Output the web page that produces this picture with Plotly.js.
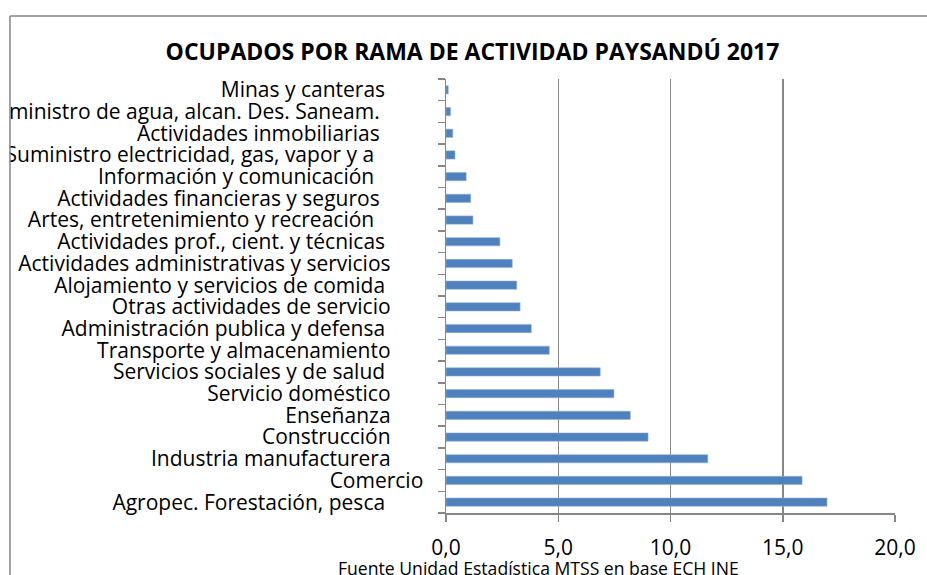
<!DOCTYPE html>
<html>
<head>
<meta charset="utf-8">
<script src="https://cdn.plot.ly/plotly-3.0.1.min.js"></script>
<style>html,body{margin:0;padding:0;background:#fff;}#chart{width:927px;height:575px;}</style>
</head>
<body>
<div id="chart"></div>
<script>
// Categories top to bottom (trailing spaces as in the source labels)
const categories = [
  "Minas y canteras       ",
  "Suministro de agua, alcan. Des. Saneam.        ",
  "Actividades inmobiliarias        ",
  "Suministro electricidad, gas, vapor y a         ",
  "Información y comunicación         ",
  "Actividades financieras y seguros        ",
  "Artes, entretenimiento y recreación         ",
  "Actividades prof., cient. y técnicas       ",
  "Actividades administrativas y servicios      ",
  "Alojamiento y servicios de comida       ",
  "Otras actividades de servicio      ",
  "Administración publica y defensa       ",
  "Transporte y almacenamiento      ",
  "Servicios sociales y de salud       ",
  "Servicio doméstico      ",
  "Enseñanza      ",
  "Construcción      ",
  "Industria manufacturera      ",
  "Comercio",
  "Agropec. Forestación, pesca       "
];
const values = [0.1, 0.2, 0.3, 0.4, 0.9, 1.1, 1.2, 2.4, 2.95, 3.15, 3.3, 3.8, 4.6, 6.87, 7.48, 8.21, 9.0, 11.66, 15.86, 16.97];
const xTickVals = [0, 5, 10, 15, 20];
const titleText = "OCUPADOS POR RAMA DE ACTIVIDAD PAYSANDÚ 2017";
const sourceText = "Fuente Unidad Estadística MTSS en base ECH INE";

const W = 927, H = 575;
const M = {l: 446, r: 31.5, t: 79, b: 62};
const PW = W - M.l - M.r, PH = H - M.t - M.b;
const px2x = p => (p - M.l) / PW;
const px2y = p => 1 - (p - M.t) / PH;

const FONT = "Open Sans, Noto Sans, sans-serif";
const gray = "#868686";

const trace = {
  type: "bar",
  orientation: "h",
  y: categories,
  x: values,
  width: 0.38,
  marker: {color: "#4F81BD", line: {color: "#8fb0d8", width: 0.6}},
  hoverinfo: "x+y"
};

const layout = {
  width: W, height: H,
  margin: {l: M.l, r: M.r, t: M.t, b: M.b, pad: 0},
  paper_bgcolor: "#fff", plot_bgcolor: "#fff",
  separators: ",.",
  showlegend: false,
  font: {family: FONT, size: 21, color: "#000"},
  title: {
    text: "<b>" + titleText + "</b>",
    font: {family: FONT, size: 23, color: "#000"},
    xref: "container", yref: "container",
    x: 472.5 / W, y: 1 - 52 / H, xanchor: "center", yanchor: "middle"
  },
  xaxis: {
    range: [0, 20], tickvals: xTickVals, tickformat: ".1f",
    showgrid: true, gridcolor: gray, gridwidth: 1.5,
    zeroline: false, showline: true, linecolor: gray, linewidth: 1.5,
    ticks: "outside", ticklen: 7, tickcolor: gray, tickwidth: 1.5,
    tickfont: {family: FONT, size: 21, color: "#000"},
    ticklabelstandoff: 8,
    fixedrange: true
  },
  yaxis: {
    type: "category", autorange: "reversed",
    tickvals: categories,
    ticktext: categories.map(c => c.replace(/ /g, "\u00A0")),
    tickson: "boundaries",
    showgrid: false, zeroline: false,
    showline: true, linecolor: gray, linewidth: 1.5,
    ticks: "outside", ticklen: 7, tickcolor: gray, tickwidth: 1.5,
    tickfont: {family: FONT, size: 21, color: "#000"},
    ticklabelstandoff: 17,
    automargin: false,
    fixedrange: true
  },
  annotations: [{
    text: sourceText, xref: "paper", yref: "paper",
    x: px2x(539), y: px2y(568), xanchor: "center", yanchor: "middle",
    showarrow: false, font: {family: FONT, size: 17.6, color: "#000"}
  }],
  shapes: [
    {type: "rect", xref: "paper", yref: "paper", layer: "above",
     x0: px2x(-20), x1: px2x(9), y0: px2y(H + 20), y1: px2y(-20),
     fillcolor: "#fff", line: {width: 0}},
    {type: "line", xref: "paper", yref: "paper", layer: "above",
     x0: px2x(9.5), x1: px2x(9.5), y0: px2y(16), y1: px2y(H + 10),
     line: {color: gray, width: 1.5}},
    {type: "line", xref: "paper", yref: "paper", layer: "above",
     x0: px2x(9.5), x1: px2x(W + 10), y0: px2y(16), y1: px2y(16),
     line: {color: gray, width: 1.5}}
  ]
};

Plotly.newPlot("chart", [trace], layout, {displayModeBar: false, staticPlot: true});
</script>
</body>
</html>
